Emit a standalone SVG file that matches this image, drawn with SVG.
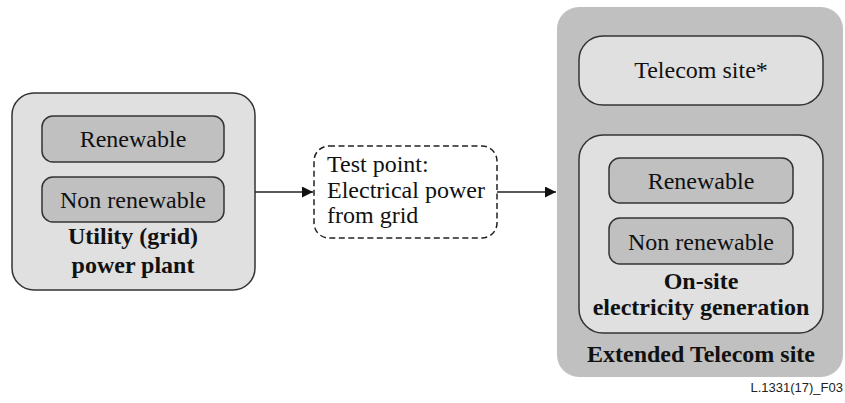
<svg xmlns="http://www.w3.org/2000/svg" width="845" height="403" viewBox="0 0 845 403">
<defs>
<style>
.t{font-family:"Liberation Serif","Times New Roman",serif;font-size:24px;fill:#111}
.b{font-family:"Liberation Serif","Times New Roman",serif;font-size:24px;font-weight:bold;fill:#111}
.light{fill:#e0e0e0;stroke:#333;stroke-width:1.5}
.dark{fill:#c0c0c0;stroke:#333;stroke-width:1.5}
.conn{stroke:#222;stroke-width:1.5;fill:none}
</style>
<marker id="ah" viewBox="0 0 10 10" refX="10" refY="5" markerWidth="11" markerHeight="11" markerUnits="userSpaceOnUse" orient="auto">
<path d="M0,0 L10,5 L0,10 z" fill="#111"/>
</marker>
</defs>
<rect width="845" height="403" fill="#fff"/>
<g id="utility">
<rect class="light" x="12" y="93" width="243" height="197" rx="22"/>
<rect class="dark" x="42" y="116" width="182" height="46" rx="11"/>
<text class="t" x="133" y="147" text-anchor="middle">Renewable</text>
<rect class="dark" x="42" y="177" width="182" height="45" rx="11"/>
<text class="t" x="133" y="208" text-anchor="middle">Non renewable</text>
<text class="b" x="133" y="244" text-anchor="middle">Utility (grid)</text>
<text class="b" x="133" y="273" text-anchor="middle">power plant</text>
</g>
<g id="testpoint">
<rect x="314" y="146" width="183" height="92" rx="15" fill="#fff" stroke="#222" stroke-width="1.5" stroke-dasharray="6,3.5"/>
<text class="t" x="327" y="172">Test point:</text>
<text class="t" x="327" y="198">Electrical power</text>
<text class="t" x="327" y="223">from grid</text>
</g>
<g id="extended">
<rect x="557" y="7" width="286" height="370" rx="22" fill="#c0c0c0"/>
<text class="b" x="701" y="362" text-anchor="middle">Extended Telecom site</text>
</g>
<g id="telecom">
<rect class="light" x="579" y="36" width="244" height="69" rx="24"/>
<text class="t" x="701" y="78" text-anchor="middle">Telecom site*</text>
</g>
<g id="onsite">
<rect class="light" x="579" y="135" width="244" height="198" rx="24"/>
<rect class="dark" x="609" y="158" width="184" height="45" rx="11"/>
<text class="t" x="701" y="189" text-anchor="middle">Renewable</text>
<rect class="dark" x="609" y="218" width="184" height="46" rx="11"/>
<text class="t" x="701" y="250" text-anchor="middle">Non renewable</text>
<text class="b" x="701" y="289" text-anchor="middle">On-site</text>
<text class="b" x="701" y="315" text-anchor="middle">electricity generation</text>
</g>
<g id="connectors">
<line class="conn" x1="255" y1="192" x2="313" y2="192" marker-end="url(#ah)"/>
<line class="conn" x1="497" y1="192" x2="556" y2="192" marker-end="url(#ah)"/>
</g>
<text x="843" y="392" text-anchor="end" font-family="Liberation Sans,Arial,sans-serif" font-size="13" fill="#222">L.1331(17)_F03</text>
</svg>
